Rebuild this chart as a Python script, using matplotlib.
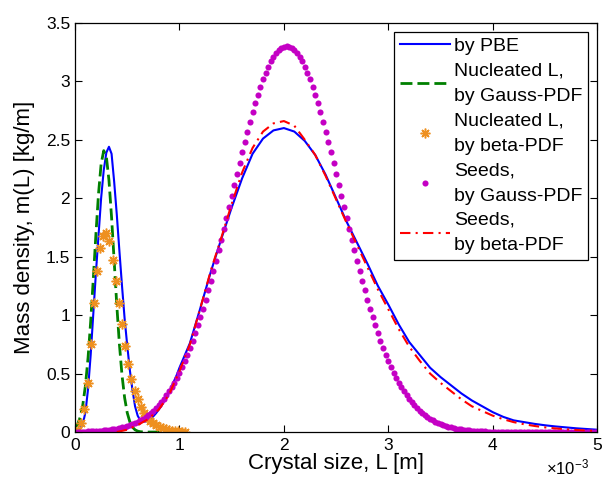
import numpy as np
import matplotlib
matplotlib.use('Agg')
import matplotlib.pyplot as plt
from matplotlib.ticker import FormatStrFormatter, ScalarFormatter

plt.rcParams['font.family'] = ['Liberation Sans', 'DejaVu Sans']
plt.rcParams['mathtext.fontset'] = 'custom'
plt.rcParams['mathtext.rm'] = 'Liberation Sans'

# crystal size grids, in units of 1e-3 m
L_pbe = np.concatenate([np.linspace(0, 0.975, 40), np.linspace(1.0, 5.0, 41)])
L_nuc_gauss = np.linspace(0, 1.0, 41)
L_nuc_beta = np.linspace(0, 1.05, 36)
L_seed_gauss = np.linspace(0, 5.0, 201)
L_seed_beta = np.linspace(0.4, 5.0, 47)

# mass density m(L) [kg/m]
m_pbe = [0.0, 0.005, 0.03, 0.07, 0.17, 0.37, 0.66, 1.01, 1.36, 1.68,
         2.00, 2.24, 2.39, 2.44, 2.38, 2.14, 1.86, 1.55, 1.25, 0.97,
         0.74, 0.53, 0.36, 0.22, 0.14, 0.10, 0.09, 0.09, 0.10, 0.115,
         0.135, 0.16, 0.19, 0.22, 0.26, 0.30, 0.34, 0.39, 0.44, 0.49,
         0.55, 0.76, 1.06, 1.37, 1.65, 1.92, 2.17, 2.38, 2.51, 2.58,
         2.60, 2.57, 2.49, 2.37, 2.20, 2.00, 1.80, 1.62, 1.44, 1.25,
         1.09, 0.92, 0.77, 0.66, 0.55, 0.47, 0.40, 0.33, 0.27, 0.22,
         0.17, 0.13, 0.10, 0.085, 0.07, 0.058, 0.048, 0.04, 0.032, 0.026,
         0.02]

m_nuc_gauss = [0.031, 0.066, 0.128, 0.235, 0.400, 0.637, 0.945, 1.308, 1.691, 2.038,
               2.293, 2.407, 2.357, 2.154, 1.837, 1.462, 1.085, 0.752, 0.486, 0.293,
               0.165, 0.087, 0.042, 0.019, 0.008, 0.003, 0.001, 0.0, 0.0, 0.0,
               0.0, 0.0, 0.0, 0.0, 0.0, 0.0, 0.0, 0.0, 0.0, 0.0,
               0.0]

m_nuc_beta = [0.0, 0.02, 0.08, 0.20, 0.42, 0.75, 1.10, 1.38, 1.57, 1.68,
              1.70, 1.63, 1.47, 1.29, 1.10, 0.92, 0.74, 0.58, 0.45, 0.35,
              0.28, 0.215, 0.165, 0.125, 0.095, 0.075, 0.058, 0.045, 0.034, 0.025,
              0.018, 0.013, 0.009, 0.006, 0.004, 0.002]

m_seed_gauss = [0.002, 0.003, 0.003, 0.004, 0.004,
                0.005, 0.006, 0.007, 0.009, 0.010, 0.012, 0.014, 0.017, 0.019, 0.022,
                0.026, 0.030, 0.035, 0.040, 0.046, 0.053, 0.060, 0.069, 0.078, 0.089,
                0.101, 0.114, 0.129, 0.145, 0.163, 0.183, 0.205, 0.228, 0.254, 0.283,
                0.313, 0.347, 0.383, 0.422, 0.464, 0.509, 0.556, 0.608, 0.662, 0.720,
                0.780, 0.845, 0.912, 0.982, 1.056, 1.133, 1.212, 1.295, 1.379, 1.467,
                1.556, 1.646, 1.739, 1.832, 1.926, 2.021, 2.115, 2.208, 2.301, 2.393,
                2.482, 2.569, 2.654, 2.734, 2.812, 2.885, 2.953, 3.016, 3.073, 3.125,
                3.170, 3.210, 3.242, 3.267, 3.285, 3.296,
                3.300,
                3.296, 3.285, 3.267, 3.242, 3.210, 3.170,
                3.125, 3.073, 3.016, 2.953, 2.885, 2.812, 2.734, 2.654, 2.569, 2.482,
                2.393, 2.301, 2.208, 2.115, 2.021, 1.926, 1.832, 1.739, 1.646, 1.556,
                1.467, 1.379, 1.295, 1.212, 1.133, 1.056, 0.982, 0.912, 0.845, 0.780,
                0.720, 0.662, 0.608, 0.556, 0.509, 0.464, 0.422, 0.383, 0.347, 0.313,
                0.283, 0.254, 0.228, 0.205, 0.183, 0.163, 0.145, 0.129, 0.114, 0.101,
                0.089, 0.078, 0.069, 0.060, 0.053, 0.046, 0.040, 0.035, 0.030, 0.026,
                0.022, 0.019, 0.017, 0.014, 0.012, 0.010, 0.009, 0.007, 0.006, 0.005,
                0.004, 0.004, 0.003, 0.003, 0.002,
                0.0, 0.0, 0.0, 0.0, 0.0, 0.0, 0.0, 0.0, 0.0, 0.0,
                0.0, 0.0, 0.0, 0.0, 0.0, 0.0, 0.0, 0.0, 0.0, 0.0,
                0.0, 0.0, 0.0, 0.0, 0.0, 0.0, 0.0, 0.0, 0.0, 0.0,
                0.0, 0.0, 0.0, 0.0, 0.0, 0.0, 0.0, 0.0]

m_seed_beta = [0.0, 0.02, 0.06, 0.11, 0.19, 0.32, 0.52, 0.75, 1.06, 1.38,
               1.66, 1.95, 2.22, 2.43, 2.57, 2.64, 2.66, 2.62, 2.50, 2.37,
               2.19, 1.99, 1.79, 1.60, 1.41, 1.22, 1.05, 0.88, 0.73, 0.61,
               0.50, 0.42, 0.35, 0.28, 0.22, 0.18, 0.14, 0.11, 0.085, 0.067,
               0.052, 0.04, 0.031, 0.024, 0.018, 0.013, 0.01]

assert len(m_pbe) == len(L_pbe)
assert len(m_nuc_gauss) == len(L_nuc_gauss)
assert len(m_nuc_beta) == len(L_nuc_beta)
assert len(m_seed_gauss) == len(L_seed_gauss)
assert len(m_seed_beta) == len(L_seed_beta)

fig = plt.figure(figsize=(6.03, 4.86), dpi=100)
ax = fig.add_axes([0.1244, 0.111, 0.866, 0.842])

ax.plot(L_pbe * 1e-3, m_pbe, color='#0000FF', lw=1.5, label='by PBE')
ax.plot(L_nuc_gauss * 1e-3, m_nuc_gauss, color='#008000', lw=2, dashes=(4.3, 1.8),
        label='Nucleated L,\nby Gauss-PDF')
ax.plot(L_nuc_beta * 1e-3, m_nuc_beta, ls='none', marker=(8, 2, 0), ms=7, mew=1.1,
        color='#EE9020', label='Nucleated L,\nby beta-PDF')
ax.plot(L_seed_gauss * 1e-3, m_seed_gauss, ls='none', marker='o', ms=4.4, mew=0,
        color='#C400C4', label='Seeds,\nby Gauss-PDF')
ax.plot(L_seed_beta * 1e-3, m_seed_beta, color='#FF0000', lw=1.5, dashes=(5, 2.5, 1, 2.5),
        label='Seeds,\nby beta-PDF')

ax.set_xlim(0, 5e-3)
ax.set_ylim(0, 3.5)
ax.set_xticks(np.arange(0, 5.5, 1) * 1e-3)
ax.set_yticks(np.arange(0, 3.75, 0.5))
ax.yaxis.set_major_formatter(FormatStrFormatter('%g'))
fmt = ScalarFormatter(useMathText=True)
fmt.set_powerlimits((-2, 2))
ax.xaxis.set_major_formatter(fmt)
ax.tick_params(direction='in', length=5, width=0.8, top=True, right=True, labelsize=12.5)
ax.xaxis.get_offset_text().set_fontsize(12)
ax.xaxis.get_offset_text().set_x(0.985)
for s in ax.spines.values():
    s.set_linewidth(0.9)

ax.set_xlabel('Crystal size, L [m]', fontsize=16, labelpad=0)
ax.set_ylabel('Mass density, m(L) [kg/m]', fontsize=16, labelpad=8)

leg = ax.legend(loc='upper right', fontsize=14, numpoints=1, handlelength=2.6,
                handletextpad=0.2, labelspacing=0.38, borderaxespad=0.45,
                borderpad=0.3, fancybox=False, edgecolor='black', framealpha=1)
for t in leg.get_texts():
    t.set_linespacing(1.65)
leg.get_frame().set_linewidth(0.9)

fig.savefig('out.png', dpi=100)
